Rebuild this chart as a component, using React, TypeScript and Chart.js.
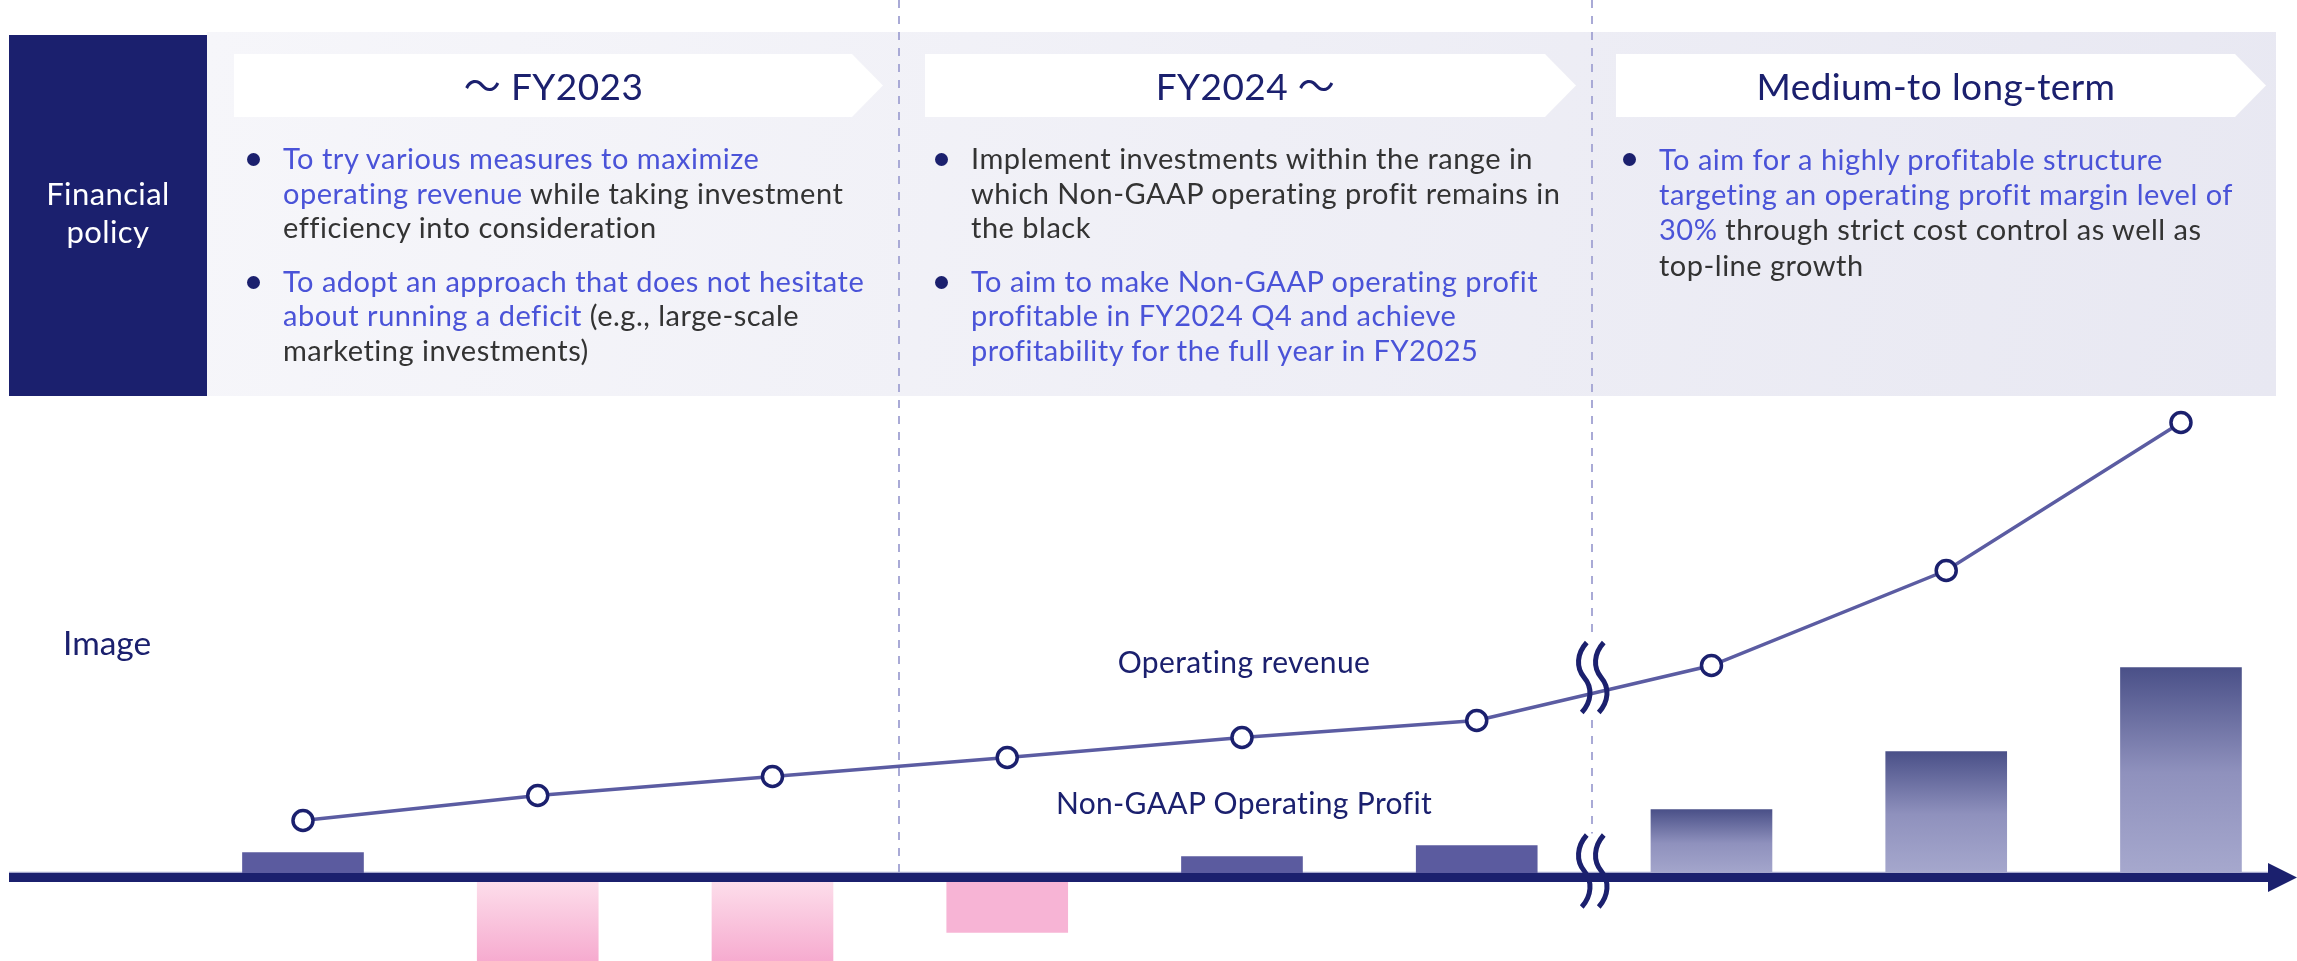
import React, { useEffect, useRef } from 'react';
import { Chart, registerables } from 'chart.js';

Chart.register(...registerables);

// ---------- data (image chart, values in relative units) ----------
const periods = ['P1', 'P2', 'P3', 'P4', 'P5', 'P6', 'P7', 'P8', 'P9'];
const operatingRevenue = [57, 82, 101, 120, 140, 157, 212, 307, 455];
const nonGaapProfit = [25, -100, -100, -55, 21, 32, 68, 126, 210];
const dividers = [2.54, 5.49];
const breakAt = 5.49;

// ---------- layout / style ----------
const W = 2297;
const H = 961;
const NAVY = '#1b206e';
const BLUE = '#4a53d8';
const DARK = '#333333';
const FONT = "Lato, 'Noto Sans CJK JP', sans-serif";

const headers = [
  { left: 234, arrow: 852, text: '～ FY2023' },
  { left: 925, arrow: 1545, text: 'FY2024 ～' },
  { left: 1616, arrow: 2235, text: 'Medium-to long-term' },
];

type Seg = [string, boolean];
const col1: Seg[][][] = [
  [
    [['To try various measures to maximize', true]],
    [['operating revenue', true], [' while taking investment', false]],
    [['efficiency into consideration', false]],
  ],
  [
    [['To adopt an approach that does not hesitate', true]],
    [['about running a deficit', true], [' (e.g., large-scale', false]],
    [['marketing investments)', false]],
  ],
];
const col2: Seg[][][] = [
  [
    [['Implement investments within the range in', false]],
    [['which Non-GAAP operating profit remains in', false]],
    [['the black', false]],
  ],
  [
    [['To aim to make Non-GAAP operating profit', true]],
    [['profitable in FY2024 Q4 and achieve', true]],
    [['profitability for the full year in FY2025', true]],
  ],
];
const col3: Seg[][][] = [
  [
    [['To aim for a highly profitable structure', true]],
    [['targeting an operating profit margin level of', true]],
    [['30%', true], [' through strict cost control as well as', false]],
    [['top-line growth', false]],
  ],
];
const columns = [
  { x: 283, lh: 34.6, items: col1 },
  { x: 971, lh: 34.6, items: col2 },
  { x: 1659, lh: 35.3, items: col3 },
];

const X_MIN = -1.2907;
const X_MAX = 8.4943;
const Y_MIN = -83.5;
const Y_MAX = 877.5;

function phaseOf(i: number) {
  if (i < dividers[0]) return 0;
  if (i < dividers[1]) return 1;
  return 2;
}

function barColor(ctx: any) {
  const chart = ctx.chart;
  const i = ctx.dataIndex;
  const v = nonGaapProfit[i];
  const ys = chart.scales.y;
  if (!ys) return '#5b5b9f';
  const top = ys.getPixelForValue(v);
  const base = ys.getPixelForValue(0);
  const ph = phaseOf(i);
  const c = chart.ctx as CanvasRenderingContext2D;
  if (ph === 2) {
    const g = c.createLinearGradient(0, top, 0, base);
    g.addColorStop(0, '#4a5088');
    g.addColorStop(0.5, '#8f91bd');
    g.addColorStop(1, '#a7a9ce');
    return g;
  }
  if (v < 0) {
    if (ph === 0) {
      const g = c.createLinearGradient(0, base, 0, Math.min(top, H));
      g.addColorStop(0, '#fde0ec');
      g.addColorStop(1, '#f6abcf');
      return g;
    }
    return '#f7b4d5';
  }
  return '#5b5b9f';
}

function drawBreakMark(ctx: CanvasRenderingContext2D, cx: number, cy: number, h: number) {
  const s = h / 70;
  ctx.save();
  ctx.strokeStyle = NAVY;
  ctx.lineWidth = 5;
  ctx.lineCap = 'butt';
  for (const off of [-8.5, 8.5]) {
    const x0 = cx + off;
    ctx.beginPath();
    ctx.moveTo(x0 + 2.5, cy - 35 * s);
    ctx.bezierCurveTo(x0 - 7.5, cy - 24 * s, x0 - 8.5, cy - 10 * s, x0, cy);
    ctx.bezierCurveTo(x0 + 8.5, cy + 10 * s, x0 + 7.5, cy + 24 * s, x0 - 2.5, cy + 35 * s);
    ctx.stroke();
  }
  ctx.restore();
}

function breakY(ys: any) {
  const i0 = Math.floor(breakAt);
  const t = breakAt - i0;
  const vBreak = operatingRevenue[i0] * (1 - t) + operatingRevenue[i0 + 1] * t;
  return ys.getPixelForValue(vBreak) - 16;
}

const decorPlugin = {
  id: 'decor',
  beforeDatasetsDraw(chart: any) {
    const ctx = chart.ctx as CanvasRenderingContext2D;
    const xs = chart.scales.x;
    const ys = chart.scales.y;
    const zeroY = ys.getPixelForValue(0);
    ctx.save();
    // light panel
    const g = ctx.createLinearGradient(207, 32, 2276, 396);
    g.addColorStop(0, '#f6f6fa');
    g.addColorStop(1, '#e8e8f2');
    ctx.fillStyle = g;
    ctx.fillRect(207, 32, 2276 - 207, 396 - 32);
    // dark panel
    ctx.fillStyle = NAVY;
    ctx.fillRect(9, 35, 207 - 9, 396 - 35);
    // header boxes
    ctx.fillStyle = '#ffffff';
    for (const hd of headers) {
      ctx.beginPath();
      ctx.moveTo(hd.left, 54);
      ctx.lineTo(hd.arrow, 54);
      ctx.lineTo(hd.arrow + 31, 85.5);
      ctx.lineTo(hd.arrow, 117);
      ctx.lineTo(hd.left, 117);
      ctx.closePath();
      ctx.fill();
    }
    // dashed dividers
    ctx.strokeStyle = '#a9aad6';
    ctx.lineWidth = 2;
    ctx.setLineDash([8, 8]);
    const d0 = Math.round(xs.getPixelForValue(dividers[0]));
    const d1 = Math.round(xs.getPixelForValue(dividers[1]));
    ctx.beginPath();
    ctx.moveTo(d0, 0);
    ctx.lineTo(d0, zeroY - 5);
    ctx.moveTo(d1, 0);
    ctx.lineTo(d1, zeroY - 44);
    ctx.stroke();
    ctx.setLineDash([]);
    // mask behind the revenue break mark
    const by = breakY(ys);
    ctx.fillStyle = '#ffffff';
    ctx.fillRect(d1 - 8, by - 38, 16, 76);
    // thin light line above the axis
    ctx.strokeStyle = '#a4a6cc';
    ctx.lineWidth = 1.5;
    ctx.beginPath();
    ctx.moveTo(9, zeroY - 5);
    ctx.lineTo(2268, zeroY - 5);
    ctx.stroke();
    ctx.restore();
  },
  afterDatasetsDraw(chart: any) {
    const ctx = chart.ctx as CanvasRenderingContext2D;
    const xs = chart.scales.x;
    const ys = chart.scales.y;
    const zeroY = ys.getPixelForValue(0);
    ctx.save();
    // axis
    ctx.fillStyle = NAVY;
    ctx.fillRect(9, zeroY - 4.5, 2270 - 9, 9);
    ctx.beginPath();
    ctx.moveTo(2268, zeroY - 14.5);
    ctx.lineTo(2297, zeroY);
    ctx.lineTo(2268, zeroY + 14.5);
    ctx.closePath();
    ctx.fill();
    // break marks
    const bx = xs.getPixelForValue(breakAt) + 1;
    drawBreakMark(ctx, bx, breakY(ys), 70);
    drawBreakMark(ctx, bx, zeroY - 6.5, 72);
    ctx.restore();
  },
};

function baselineTop(baseline: number, size: number, lh: number) {
  return baseline - ((lh - 1.2 * size) / 2 + 0.987 * size);
}

function Column({ x, lh, items }: { x: number; lh: number; items: Seg[][][] }) {
  const size = 29;
  return (
    <div
      style={{
        position: 'absolute',
        left: x,
        top: baselineTop(169.5, size, lh),
        fontSize: size,
        lineHeight: `${lh}px`,
        letterSpacing: '0.5px',
        whiteSpace: 'nowrap',
        color: DARK,
      }}
    >
      {items.map((item, k) => (
        <div key={k} style={{ position: 'relative', marginBottom: 19 }}>
          <span
            style={{
              position: 'absolute',
              left: -36,
              top: lh / 2 - 6.5 + 1,
              width: 13,
              height: 13,
              borderRadius: 6.5,
              background: NAVY,
            }}
          />
          {item.map((line, j) => (
            <div key={j}>
              {line.map(([txt, hi], m) => (
                <span key={m} style={{ color: hi ? BLUE : DARK }}>
                  {txt}
                </span>
              ))}
            </div>
          ))}
        </div>
      ))}
    </div>
  );
}

export default function App() {
  const canvasRef = useRef<HTMLCanvasElement>(null);

  useEffect(() => {
    const canvas = canvasRef.current;
    if (!canvas) return;
    const chart = new Chart(canvas, {
      type: 'bar',
      data: {
        labels: periods,
        datasets: [
          {
            type: 'line',
            label: 'Operating revenue',
            data: operatingRevenue.map((v, i) => ({ x: i, y: v })),
            borderColor: '#5b5ca2',
            borderWidth: 3.5,
            pointRadius: 10,
            pointBorderWidth: 3.5,
            pointBorderColor: NAVY,
            pointBackgroundColor: '#ffffff',
            tension: 0,
            order: 0,
          } as any,
          {
            type: 'bar',
            label: 'Non-GAAP Operating Profit',
            data: nonGaapProfit.map((v, i) => ({ x: i, y: v })),
            backgroundColor: barColor,
            borderWidth: 0,
            barThickness: 121,
            order: 1,
          } as any,
        ],
      },
      options: {
        animation: false,
        responsive: false,
        maintainAspectRatio: false,
        devicePixelRatio: 1,
        layout: { padding: 0, autoPadding: false },
        events: [],
        plugins: {
          legend: { display: false },
          tooltip: { enabled: false },
        },
        scales: {
          x: { type: 'linear', min: X_MIN, max: X_MAX, display: false, offset: false },
          y: { type: 'linear', min: Y_MIN, max: Y_MAX, display: false },
        },
      } as any,
      plugins: [decorPlugin],
    });
    return () => chart.destroy();
  }, []);

  return (
    <div
      style={{
        position: 'absolute',
        left: 0,
        top: 0,
        width: W,
        height: H,
        overflow: 'hidden',
        background: '#ffffff',
        fontFamily: FONT,
      }}
    >
      <canvas
        ref={canvasRef}
        width={W}
        height={H}
        style={{ position: 'absolute', left: 0, top: 0, width: W, height: H, display: 'block' }}
      />
      {/* left label panel */}
      <div
        style={{
          position: 'absolute',
          left: 9,
          width: 198,
          top: baselineTop(205, 31, 38),
          fontSize: 31,
          lineHeight: '38px',
          letterSpacing: '0.4px',
          color: '#ffffff',
          textAlign: 'center',
        }}
      >
        Financial
        <br />
        policy
      </div>
      {/* header texts */}
      {headers.map((hd, k) => (
        <div
          key={k}
          style={{
            position: 'absolute',
            left: hd.left,
            width: hd.arrow + 31 - hd.left - 10,
            top: 54,
            height: 63,
            fontSize: 37,
            lineHeight: '63px',
            letterSpacing: '0.4px',
            color: NAVY,
            textAlign: 'center',
            whiteSpace: 'nowrap',
          }}
        >
          {hd.text}
        </div>
      ))}
      {columns.map((c, k) => (
        <Column key={k} x={c.x} lh={c.lh} items={c.items} />
      ))}
      <div
        style={{
          position: 'absolute',
          left: 63,
          top: baselineTop(655, 33.5, 38),
          fontSize: 33.5,
          lineHeight: '38px',
          color: NAVY,
        }}
      >
        Image
      </div>
      <div
        style={{
          position: 'absolute',
          left: 1044,
          width: 400,
          top: baselineTop(673, 30, 36),
          fontSize: 30,
          lineHeight: '36px',
          letterSpacing: '0.4px',
          color: NAVY,
          textAlign: 'center',
          whiteSpace: 'nowrap',
        }}
      >
        Operating revenue
      </div>
      <div
        style={{
          position: 'absolute',
          left: 1044,
          width: 400,
          top: baselineTop(814, 30, 36),
          fontSize: 30,
          lineHeight: '36px',
          letterSpacing: '0.35px',
          color: NAVY,
          textAlign: 'center',
          whiteSpace: 'nowrap',
        }}
      >
        Non-GAAP Operating Profit
      </div>
    </div>
  );
}
